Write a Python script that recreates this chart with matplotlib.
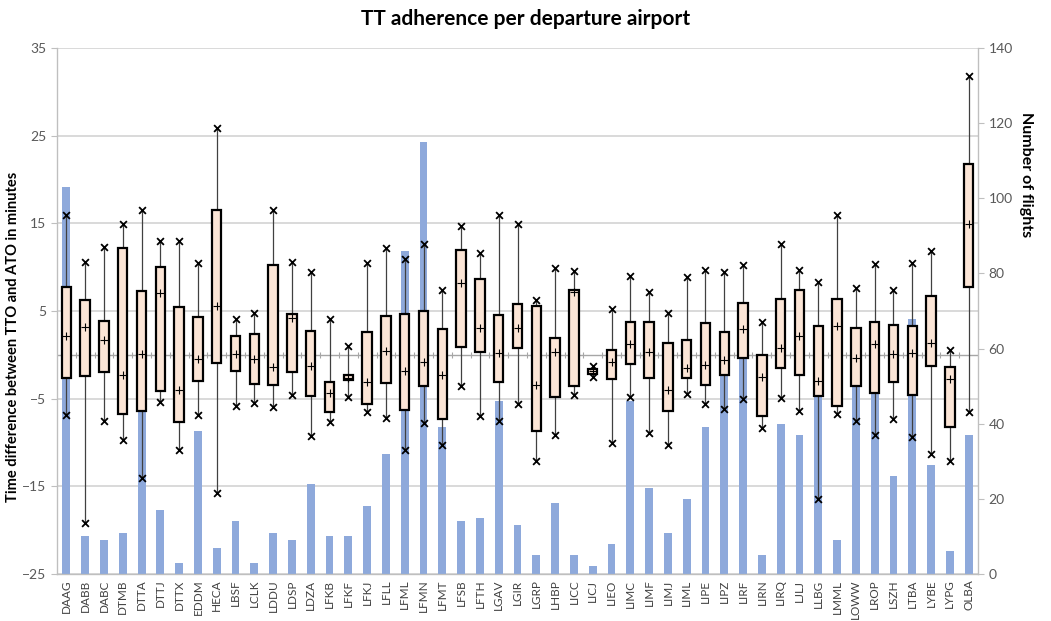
import matplotlib as mpl
mpl.use('Agg')
import matplotlib.pyplot as plt
import numpy as np

plt.rcParams['font.family'] = ['Lato', 'DejaVu Sans']

airports = ['DAAG', 'DABB', 'DABC', 'DTMB', 'DTTA', 'DTTJ', 'DTTX', 'EDDM', 'HECA', 'LBSF',
            'LCLK', 'LDDU', 'LDSP', 'LDZA', 'LFKB', 'LFKF', 'LFKJ', 'LFLL', 'LFML', 'LFMN',
            'LFMT', 'LFSB', 'LFTH', 'LGAV', 'LGIR', 'LGRP', 'LHBP', 'LICC', 'LICJ', 'LIEO',
            'LIMC', 'LIMF', 'LIMJ', 'LIML', 'LIPE', 'LIPZ', 'LIRF', 'LIRN', 'LIRQ', 'LJLJ',
            'LLBG', 'LMML', 'LOWW', 'LROP', 'LSZH', 'LTBA', 'LYBE', 'LYPG', 'OLBA']

# number of flights (right axis)
flights = [103, 10, 9, 11, 55, 17, 3, 38, 7, 14,
           3, 11, 9, 24, 10, 10, 18, 32, 86, 115,
           39, 14, 15, 46, 13, 5, 19, 5, 2, 8,
           46, 23, 11, 20, 39, 57, 60, 5, 40, 37,
           55, 9, 52, 50, 26, 68, 29, 6, 37]

# time difference TTO - ATO (left axis), minutes
t_max = [15.9, 10.6, 12.3, 14.9, 16.5, 13.0, 13.0, 10.5, 25.9, 4.1,
         4.8, 16.5, 10.6, 9.5, 4.1, 1.0, 10.5, 12.2, 10.9, 12.6,
         7.4, 14.7, 11.6, 16.0, 14.9, 6.2, 9.9, 9.6, -1.3, 5.2,
         9.0, 7.2, 4.8, 8.9, 9.7, 9.5, 10.2, 3.8, 12.6, 9.7,
         8.3, 15.9, 7.6, 10.4, 7.4, 10.5, 11.8, 0.6, 31.8]
t_q3 = [7.7, 6.3, 3.9, 12.2, 7.3, 10.0, 5.4, 4.3, 16.5, 2.1,
        2.4, 10.2, 4.7, 2.7, -3.1, -2.3, 2.6, 4.4, 4.7, 5.0,
        2.9, 12.0, 8.6, 4.5, 5.8, 5.6, 1.9, 7.4, -1.6, 0.5,
        3.8, 3.8, 1.3, 1.7, 3.6, 2.6, 5.9, 0.0, 6.4, 7.4,
        3.3, 6.4, 3.1, 3.8, 3.4, 3.3, 6.7, -1.4, 21.8]
t_mean = [2.1, 3.2, 1.7, -2.3, 0.1, 7.1, -4.0, -0.5, 5.6, 0.1,
          -0.5, -1.4, 4.2, -1.3, -4.4, -2.6, -3.1, 0.4, -1.9, -0.8,
          -2.3, 8.2, 3.1, 0.2, 3.1, -3.4, 0.3, 7.2, -1.9, -0.8,
          1.2, 0.3, -4.0, -1.5, -1.2, -0.6, 3.0, -2.5, 0.8, 2.1,
          -3.0, 3.3, -0.4, 1.2, 0.1, 0.2, 1.3, -2.8, 14.9]
t_q1 = [-2.6, -2.4, -2.0, -6.8, -6.4, -4.1, -7.7, -3.0, -0.9, -1.9,
        -3.3, -3.4, -2.0, -4.7, -6.5, -2.9, -5.6, -3.2, -6.3, -3.6,
        -7.3, 0.9, 0.3, -3.1, 0.8, -8.7, -4.8, -3.6, -2.2, -2.8,
        -1.0, -2.6, -6.4, -2.6, -3.4, -2.3, -0.4, -7.0, -1.5, -2.3,
        -4.7, -5.8, -3.6, -4.4, -3.1, -4.6, -1.3, -8.2, 7.7]
t_min = [-6.9, -19.2, -7.5, -9.7, -14.1, -5.4, -10.8, -6.9, -15.8, -5.8,
         -5.5, -5.9, -4.6, -9.3, -7.7, -4.8, -6.5, -7.2, -10.8, -7.8,
         -10.3, -3.6, -7.0, -7.5, -5.6, -12.1, -9.2, -4.6, -2.5, -10.1,
         -4.8, -8.9, -10.3, -4.5, -5.6, -6.2, -5.0, -8.3, -4.9, -6.4,
         -16.4, -6.7, -7.5, -9.1, -7.3, -9.4, -11.3, -12.1, -6.5]

grey = '#595959'
line_grey = '#BFBFBF'
x = np.arange(len(airports))

fig = plt.figure(figsize=(10.51, 6.21), dpi=100)
ax = fig.add_axes([0.0542, 0.0757, 0.9306 - 0.0542, 0.9227 - 0.0757])
ax2 = ax.twinx()   # flights bars
ax3 = ax.twinx()   # boxes on top

# left axis: grid + zero line
ax.set_ylim(-25, 35)
ax.set_yticks(np.arange(-25, 36, 10))
ax.set_xlim(-0.5, len(airports) - 0.5)
ax.grid(axis='y', color='#D0D0D0', linewidth=1.1)
ax.set_axisbelow(True)
ax.axhline(0, color='#A6A6A6', linewidth=1.0, zorder=1)
ax.vlines(x[:-1] + 0.5, -0.35, 0.35, color='#A6A6A6', linewidth=0.8, zorder=1)

# bars
ax2.bar(x, flights, width=0.42, color='#8EA9DB', zorder=2)
ax2.set_ylim(0, 140)
ax2.set_yticks(np.arange(0, 141, 20))

# boxes
ax3.set_ylim(-25, 35)
ax3.vlines(x, t_min, t_max, color='#404040', linewidth=0.9, zorder=2)
q1 = np.array(t_q1)
q3 = np.array(t_q3)
ax3.bar(x, q3 - q1, bottom=q1, width=0.5, facecolor='#FBE5D6',
        edgecolor='black', linewidth=1.6, zorder=3)
ax3.scatter(x, t_max, marker='x', color='black', s=24, linewidths=1.3, zorder=4)
ax3.scatter(x, t_min, marker='x', color='black', s=24, linewidths=1.3, zorder=4)
ax3.scatter(x, t_mean, marker='+', color='black', s=32, linewidths=0.8, zorder=4)
ax3.set_yticks([])

for a in (ax, ax2, ax3):
    for s in a.spines.values():
        s.set_color(line_grey)
    a.spines['top'].set_visible(False)

ax.tick_params(axis='y', colors=line_grey, labelcolor=grey, labelsize=10, length=4)
ax2.tick_params(axis='y', colors=line_grey, labelcolor=grey, labelsize=10, length=4)
ax.set_xticks(x)
ax.set_xticklabels(airports, rotation=90, fontsize=8.5, color='#404040')
ax.tick_params(axis='x', length=0, pad=4)

ax.set_ylabel('Time difference between TTO and ATO in minutes', fontsize=10.5,
              fontweight='bold', color='black')
ax.yaxis.set_label_coords(-0.040, 0.45)
ax2.set_ylabel('Number of flights', fontsize=11.5, fontweight='bold', rotation=270)
ax2.yaxis.set_label_coords(1.06, 0.76)
fig.suptitle('TT adherence per departure airport', fontsize=15, fontweight='bold', y=0.985)

plt.savefig('out.png', dpi=100)
plt.close()
